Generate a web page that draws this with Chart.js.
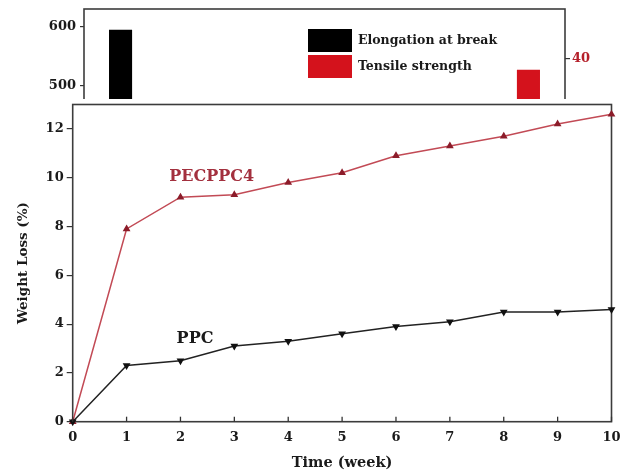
<!DOCTYPE html>
<html>
<head>
<meta charset="utf-8">
<script src="https://cdn.jsdelivr.net/npm/chart.js@4.4.1/dist/chart.umd.min.js"></script>
<style>
  body { margin: 0; background: #fff; }
  #wrap { position: relative; width: 633px; height: 472px; overflow: hidden; }
  #top { position: absolute; left: 0; top: 0; width: 633px; height: 150px; }
  #main { position: absolute; left: 0; top: 99px; width: 633px; height: 373px; background: #fff; }
</style>
</head>
<body>
<div id="wrap">
  <div id="top"><canvas id="barChart" width="633" height="150"></canvas></div>
  <div id="main"><canvas id="lossChart" width="633" height="373"></canvas></div>
</div>
<script>
// background figure (mostly covered)
var samples = ["PPC", "PECPPC1", "PECPPC2", "PECPPC3", "PECPPC4"];
var elongation = [594, null, null, null, null];
var tensile = [null, null, null, null, 38.2];

// weight loss data
var weeks = [0, 1, 2, 3, 4, 5, 6, 7, 8, 9, 10];
var ppcLoss = [0, 2.3, 2.5, 3.1, 3.3, 3.6, 3.9, 4.1, 4.5, 4.5, 4.6];
var pecLoss = [0, 7.9, 9.2, 9.3, 9.8, 10.2, 10.9, 11.3, 11.7, 12.2, 12.6];

Chart.defaults.font.family = "'DejaVu Serif', serif";
Chart.defaults.font.weight = "bold";
Chart.defaults.color = "#1a1a1a";

var ink = "#333";
var red = "#d4121c";

function toPoints(xs, ys) {
  return xs.map(function (x, i) {
    return { x: x, y: ys[i] };
  });
}

// keep the plot box where the original has it
function fixedWidth(w) {
  return function (s) {
    s.width = w;
    s.paddingTop = 0;
    s.paddingBottom = 0;
  };
}

// box around the plot area
var framePlugin = {
  id: "frame",
  beforeDatasetsDraw: function (chart) {
    var a = chart.chartArea;
    var c = chart.ctx;
    c.save();
    c.strokeStyle = "#3c3c3c";
    c.lineWidth = 1.6;
    c.strokeRect(a.left, a.top, a.right - a.left, a.bottom - a.top);
    c.restore();
  },
};

// legend drawn inside the plot like the original
var boxLegend = {
  id: "boxLegend",
  afterDraw: function (chart) {
    var c = chart.ctx;
    c.save();
    c.font = "bold 12.5px 'DejaVu Serif'";
    c.textBaseline = "middle";
    chart.data.datasets.forEach(function (ds, i) {
      var y = 29 + i * 26;
      c.fillStyle = ds.backgroundColor;
      c.fillRect(308, y, 44, 23);
      c.fillStyle = "#1a1a1a";
      c.fillText(ds.label, 358, y + 12);
    });
    c.restore();
  },
};

// inward ticks on the time axis
var innerTicks = {
  id: "innerTicks",
  afterDraw: function (chart) {
    var xs = chart.scales.x;
    var b = chart.chartArea.bottom;
    var c = chart.ctx;
    c.save();
    c.strokeStyle = ink;
    c.lineWidth = 1.3;
    xs.ticks.forEach(function (t) {
      var px = xs.getPixelForValue(t.value);
      c.beginPath();
      c.moveTo(px, b);
      c.lineTo(px, b - 5);
      c.stroke();
    });
    c.restore();
  },
};

// series names written next to the curves
var seriesNames = {
  id: "seriesNames",
  afterDatasetsDraw: function (chart, args, opts) {
    var c = chart.ctx;
    c.save();
    c.font = "bold 16px 'DejaVu Serif'";
    c.textAlign = "center";
    c.textBaseline = "middle";
    opts.items.forEach(function (it) {
      c.fillStyle = it.color;
      c.fillText(chart.data.datasets[it.dataset].label,
        chart.scales.x.getPixelForValue(it.x),
        chart.scales.y.getPixelForValue(it.y));
    });
    c.restore();
  },
};

new Chart(document.getElementById("barChart"), {
  type: "bar",
  data: {
    labels: samples,
    datasets: [
      {
        label: "Elongation at break",
        data: elongation,
        backgroundColor: "#000",
        yAxisID: "y",
        categoryPercentage: 0.48,
        barPercentage: 1,
      },
      {
        label: "Tensile strength",
        data: tensile,
        backgroundColor: red,
        yAxisID: "y1",
        categoryPercentage: 0.48,
        barPercentage: 1,
      },
    ],
  },
  options: {
    responsive: false,
    animation: false,
    layout: { padding: { top: 9, bottom: 5, left: 0, right: 0 } },
    plugins: { legend: { display: false }, tooltip: { enabled: false } },
    scales: {
      x: { display: false },
      y: {
        position: "left",
        min: 400,
        max: 629,
        ticks: { stepSize: 100, includeBounds: false, padding: 4, font: { size: 13 } },
        grid: { drawOnChartArea: false, tickLength: 4, color: ink, lineWidth: 1.2 },
        border: { display: false },
        afterFit: fixedWidth(84),
      },
      y1: {
        position: "right",
        min: 25.67,
        max: 48.33,
        ticks: { stepSize: 10, includeBounds: false, padding: 2, color: "#b5202a", font: { size: 13 } },
        grid: { drawOnChartArea: false, tickLength: 5, color: ink, lineWidth: 1.2 },
        border: { display: false },
        afterFit: fixedWidth(68),
      },
    },
  },
  plugins: [framePlugin, boxLegend],
});

new Chart(document.getElementById("lossChart"), {
  type: "line",
  data: {
    datasets: [
      {
        label: "PPC",
        data: toPoints(weeks, ppcLoss),
        borderColor: "#222",
        borderWidth: 1.5,
        pointStyle: "triangle",
        rotation: 180,
        pointRadius: 3,
        pointBackgroundColor: "#111",
        pointBorderColor: "#111",
        tension: 0,
        clip: false,
      },
      {
        label: "PECPPC4",
        data: toPoints(weeks, pecLoss),
        borderColor: "#c24a55",
        borderWidth: 1.5,
        pointStyle: "triangle",
        pointRadius: 3,
        pointBackgroundColor: "#8c1c2a",
        pointBorderColor: "#8c1c2a",
        tension: 0,
        clip: false,
      },
    ],
  },
  options: {
    responsive: false,
    animation: false,
    layout: { padding: { top: 2, right: 21.5, left: 0, bottom: 0 } },
    plugins: {
      legend: { display: false },
      tooltip: { enabled: false },
      seriesNames: {
        items: [
          { dataset: 1, x: 2.58, y: 10.05, color: "#a3303e" },
          { dataset: 0, x: 2.27, y: 3.4, color: "#1a1a1a" },
        ],
      },
    },
    scales: {
      x: {
        type: "linear",
        min: 0,
        max: 10,
        ticks: { stepSize: 1, padding: 8, font: { size: 13 } },
        grid: { drawOnChartArea: false, drawTicks: false },
        border: { display: false },
        title: {
          display: true,
          text: "Time (week)",
          font: { size: 14.5, weight: "bold" },
          padding: { top: 2, bottom: 0 },
        },
        afterFit: function (s) { s.height = 50.3; },
      },
      y: {
        min: 0,
        max: 13,
        ticks: { stepSize: 2, includeBounds: false, padding: 3, font: { size: 13 } },
        grid: { drawOnChartArea: false, tickLength: 6, color: ink, lineWidth: 1.2 },
        border: { display: false },
        title: {
          display: true,
          text: "Weight Loss (%)",
          font: { size: 13.5, weight: "bold" },
          padding: { top: 15, bottom: 0 },
        },
        afterFit: fixedWidth(72.7),
      },
    },
  },
  plugins: [framePlugin, innerTicks, seriesNames],
});
</script>
</body>
</html>
